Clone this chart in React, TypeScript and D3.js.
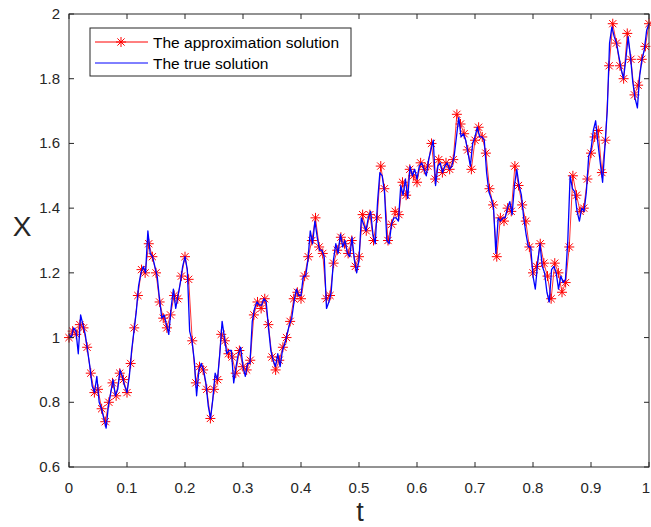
import React from "react";
import * as d3 from "d3";

// true solution, sampled at t = 0, 0.004, ..., 1
const trueValues: number[] = [
  1.01, 1.0, 1.03, 1.02, 0.95, 1.07, 1.04, 1.01, 0.96, 0.91,
  0.85, 0.83, 0.88, 0.8, 0.78, 0.75, 0.72, 0.79, 0.83, 0.87,
  0.82, 0.84, 0.9, 0.88, 0.85, 0.83, 0.88, 0.96, 1.02, 1.08,
  1.16, 1.2, 1.22, 1.2, 1.33, 1.26, 1.25, 1.22, 1.19, 1.12,
  1.06, 1.07, 1.04, 1.01, 1.09, 1.15, 1.09, 1.13, 1.17, 1.22,
  1.25, 1.21, 1.02, 0.99, 0.93, 0.82, 0.9, 0.92, 0.9, 0.86,
  0.79, 0.75, 0.81, 0.89, 0.87, 0.95, 1.05, 1.0, 0.95, 0.96,
  0.96, 0.86, 0.91, 0.95, 0.97, 0.91, 0.88, 0.92, 0.92, 1.05,
  1.09, 1.11, 1.1, 1.1, 1.12, 1.11, 1.03, 0.96, 0.93, 0.91,
  0.95, 0.91, 0.96, 0.98, 1.01, 1.04, 1.06, 1.11, 1.15, 1.13,
  1.13, 1.19, 1.19, 1.24, 1.33, 1.29, 1.36, 1.31, 1.27, 1.27,
  1.25, 1.09, 1.11, 1.14, 1.24, 1.29, 1.26, 1.32, 1.28, 1.3,
  1.26, 1.25, 1.31, 1.24, 1.2, 1.24, 1.37, 1.35, 1.33, 1.37,
  1.39, 1.32, 1.29, 1.42, 1.51, 1.5, 1.45, 1.3, 1.29, 1.35,
  1.37, 1.37, 1.36, 1.47, 1.44, 1.49, 1.43, 1.53, 1.5, 1.52,
  1.49, 1.53, 1.54, 1.52, 1.5, 1.55, 1.58, 1.61, 1.47, 1.53,
  1.54, 1.51, 1.53, 1.54, 1.52, 1.53, 1.56, 1.62, 1.68, 1.62,
  1.63, 1.61, 1.57, 1.53, 1.6, 1.62, 1.65, 1.62, 1.62, 1.61,
  1.51, 1.45, 1.43, 1.4, 1.26, 1.37, 1.36, 1.37, 1.37, 1.4,
  1.42, 1.38, 1.47, 1.52, 1.47, 1.44, 1.37, 1.32, 1.28, 1.28,
  1.19, 1.15, 1.23, 1.29, 1.22, 1.2, 1.14, 1.11, 1.21, 1.22,
  1.2, 1.15, 1.19, 1.17, 1.18, 1.3, 1.5, 1.46, 1.45, 1.39,
  1.36, 1.4, 1.39, 1.45, 1.56, 1.58, 1.64, 1.67, 1.6, 1.54,
  1.48, 1.59, 1.7, 1.91, 1.96, 1.93, 1.91, 1.87, 1.83, 1.8,
  1.86, 1.93, 1.87, 1.79, 1.74, 1.71, 1.81, 1.86, 1.89, 1.95,
  1.97,
];

// approximation solution, sampled at t = 0, 1/160, ..., 1
const approxValues: number[] = [
  1.0, 1.02, 1.01, 1.04, 1.03, 0.97, 0.89, 0.83, 0.84, 0.78,
  0.74, 0.8, 0.86, 0.82, 0.89, 0.87, 0.83, 0.92, 1.03, 1.13,
  1.21, 1.2, 1.29, 1.25, 1.2, 1.11, 1.06, 1.03, 1.07, 1.13,
  1.12, 1.19, 1.25, 1.18, 0.99, 0.86, 0.91, 0.9, 0.84, 0.75,
  0.84, 0.87, 1.01, 0.99, 0.95, 0.94, 0.89, 0.96, 0.91, 0.9,
  0.93, 1.07, 1.11, 1.09, 1.12, 1.04, 0.94, 0.9, 0.93, 0.97,
  1.0, 1.05, 1.12, 1.14, 1.12, 1.19, 1.25, 1.3, 1.37, 1.28,
  1.26, 1.12, 1.13, 1.23, 1.27, 1.31, 1.29, 1.26, 1.3, 1.22,
  1.25, 1.38, 1.33, 1.38, 1.3, 1.37, 1.53, 1.46, 1.3, 1.35,
  1.39, 1.38, 1.48, 1.44, 1.52, 1.5, 1.48, 1.54, 1.52, 1.53,
  1.6, 1.49, 1.55, 1.51, 1.54, 1.52, 1.55, 1.69, 1.66, 1.63,
  1.58, 1.52, 1.61, 1.65, 1.62, 1.57, 1.46, 1.41, 1.25, 1.37,
  1.36, 1.4, 1.39, 1.53, 1.47, 1.41, 1.36, 1.28, 1.2, 1.22,
  1.29, 1.23, 1.19, 1.12, 1.23, 1.2, 1.14, 1.17, 1.28, 1.5,
  1.44, 1.39, 1.4, 1.49, 1.57, 1.62, 1.64, 1.51, 1.61, 1.84,
  1.97, 1.91, 1.84, 1.8, 1.94, 1.86, 1.75, 1.78, 1.86, 1.9,
  1.97,
];

const xTicks: number[] = [0, 0.1, 0.2, 0.3, 0.4, 0.5, 0.6, 0.7, 0.8, 0.9, 1];
const yTicks: number[] = [0.6, 0.8, 1, 1.2, 1.4, 1.6, 1.8, 2];
const legendLabels: string[] = ["The approximation solution", "The true solution"];

const W = 651;
const H = 527;
const left = 69;
const right = 649;
const top = 14;
const bottom = 467;
const axisColor = "#262626";
const font = "'Liberation Sans', Arial, Helvetica, sans-serif";

function starPath(cx: number, cy: number, r: number): string {
  const d = r * 0.72;
  return (
    `M${cx - r},${cy}L${cx + r},${cy}` +
    `M${cx},${cy - r}L${cx},${cy + r}` +
    `M${cx - d},${cy - d}L${cx + d},${cy + d}` +
    `M${cx - d},${cy + d}L${cx + d},${cy - d}`
  );
}

export default function App() {
  const x = d3.scaleLinear().domain([0, 1]).range([left, right]);
  const y = d3.scaleLinear().domain([0.6, 2]).range([bottom, top]);

  const trueDt = 1 / (trueValues.length - 1);
  const approxDt = 1 / (approxValues.length - 1);
  const trueData = trueValues.map((v, i) => [i * trueDt, v] as [number, number]);
  const approxData = approxValues.map((v, i) => [i * approxDt, v] as [number, number]);

  const line = d3
    .line<[number, number]>()
    .x((d) => x(d[0]))
    .y((d) => y(d[1]));

  const tickLen = 5;

  return (
    <svg
      width={W}
      height={H}
      style={{ position: "absolute", left: 0, top: 0, background: "#fff" }}
      fontFamily={font}
    >
      <rect x={0} y={0} width={W} height={H} fill="#fff" />
      {/* approximation: red line + stars */}
      <path d={line(approxData) || ""} fill="none" stroke="#ff0000" strokeWidth={0.8} />
      <path
        d={approxData.map((d) => starPath(x(d[0]), y(d[1]), 5)).join("")}
        fill="none"
        stroke="#ff0000"
        strokeWidth={1}
      />
      {/* true solution */}
      <path d={line(trueData) || ""} fill="none" stroke="#0000ff" strokeWidth={1.3} strokeLinejoin="round" />

      {/* axes box */}
      <rect x={left} y={top} width={right - left} height={bottom - top} fill="none" stroke={axisColor} strokeWidth={1} />

      {xTicks.map((t) => (
        <g key={"xt" + t}>
          <line x1={x(t)} x2={x(t)} y1={bottom} y2={bottom - tickLen} stroke={axisColor} />
          <line x1={x(t)} x2={x(t)} y1={top} y2={top + tickLen} stroke={axisColor} />
          <text x={t === 1 ? x(t) - 3 : x(t)} y={bottom + 26} textAnchor="middle" fontSize={15} fill={axisColor}>
            {String(t)}
          </text>
        </g>
      ))}
      {yTicks.map((v) => (
        <g key={"yt" + v}>
          <line x1={left} x2={left + tickLen} y1={y(v)} y2={y(v)} stroke={axisColor} />
          <line x1={right} x2={right - tickLen} y1={y(v)} y2={y(v)} stroke={axisColor} />
          <text x={left - 9} y={y(v) + 5} textAnchor="end" fontSize={15} fill={axisColor}>
            {String(v)}
          </text>
        </g>
      ))}

      <text x={360} y={521} textAnchor="middle" fontSize={27} fill={axisColor}>
        t
      </text>
      <text x={22} y={236} textAnchor="middle" fontSize={28} fill={axisColor}>
        X
      </text>

      {/* legend */}
      <rect x={90} y={28} width={261} height={48} fill="#fff" stroke={axisColor} strokeWidth={1} />
      <line x1={95} x2={148} y1={42} y2={42} stroke="#ff0000" strokeWidth={1} />
      <path d={starPath(121, 42, 5)} fill="none" stroke="#ff0000" strokeWidth={1} />
      <line x1={95} x2={148} y1={63} y2={63} stroke="#0000ff" strokeWidth={1} />
      <text x={153} y={47.5} fontSize={15.5} fill="#000">
        {legendLabels[0]}
      </text>
      <text x={153} y={68.5} fontSize={15.5} fill="#000">
        {legendLabels[1]}
      </text>
    </svg>
  );
}
